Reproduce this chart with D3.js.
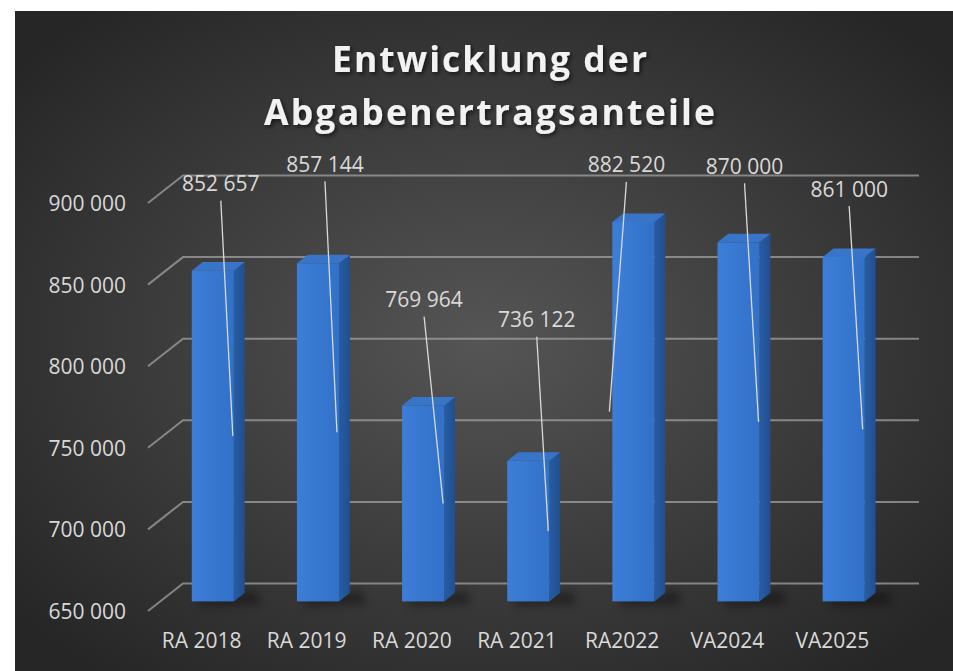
<!DOCTYPE html>
<html>
<head>
<meta charset="utf-8">
<script src="https://cdn.jsdelivr.net/npm/d3@7"></script>
<style>
  html, body { margin: 0; padding: 0; background: #ffffff; }
  svg { display: block; }
</style>
</head>
<body>
<svg id="chart" width="953" height="671"></svg>
<script>
// ---- data ----
const titleLines = ["Entwicklung der", "Abgabenertragsanteile"];
const categories = ["RA 2018", "RA 2019", "RA 2020", "RA 2021", "RA2022", "VA2024", "VA2025"];
const values = [852657, 857144, 769964, 736122, 882520, 870000, 861000];
const yTicks = [650000, 700000, 750000, 800000, 850000, 900000];

// ---- layout (manual label placement, as in the original) ----
const labelDx = [8, 7, 1, 8.5, -7, 6, 5.5];
const labelDy = [-87, -99, -106, -141, -57, -76, -68];
const anchorDx = [20, 19, 20, 20, -24, 20, 19];

const W = 953, H = 671;
const svg = d3.select("#chart");
const defs = svg.append("defs");

const locale = d3.formatLocale({ decimal: ",", thousands: " ", grouping: [3], currency: ["", ""] });
const fmt = locale.format(",d");

// background gradient
const bg = defs.append("radialGradient").attr("id", "bg")
  .attr("cx", "50%").attr("cy", "50%").attr("r", "65%");
bg.append("stop").attr("offset", "0%").attr("stop-color", "#555555");
bg.append("stop").attr("offset", "100%").attr("stop-color", "#262626");

const fg = defs.append("linearGradient").attr("id", "front").attr("x1", 0).attr("x2", 1).attr("y1", 0).attr("y2", 0);
fg.append("stop").attr("offset", "0%").attr("stop-color", "#3c7ed8");
fg.append("stop").attr("offset", "100%").attr("stop-color", "#3271c8");
const sg = defs.append("linearGradient").attr("id", "side").attr("x1", 0).attr("x2", 1).attr("y1", 0).attr("y2", 0);
sg.append("stop").attr("offset", "0%").attr("stop-color", "#275ca4");
sg.append("stop").attr("offset", "100%").attr("stop-color", "#214f8f");

const sh = defs.append("filter").attr("id", "tshadow").attr("x", "-10%").attr("y", "-30%").attr("width", "120%").attr("height", "160%");
sh.append("feDropShadow").attr("dx", 2).attr("dy", 2).attr("stdDeviation", 2)
  .attr("flood-color", "#000").attr("flood-opacity", 0.6);
const blur = defs.append("filter").attr("id", "blur").attr("x", "-50%").attr("y", "-50%").attr("width", "200%").attr("height", "200%");
blur.append("feGaussianBlur").attr("stdDeviation", 4);

svg.append("rect").attr("x", 15).attr("y", 11).attr("width", W - 15).attr("height", H - 11)
  .attr("fill", "url(#bg)");

// ---- scales ----
const DX = 35, DY = -27.5;        // depth of the plot floor
const barDepthF = 0.31;           // bar depth as fraction of floor depth
const barF = 0.35;                // bar front face position in depth
const x = d3.scaleBand().domain(categories).range([148, 884]).paddingInner(0).paddingOuter(0);
const y = d3.scaleLinear().domain([650000, 900000]).range([611, 203]);
const bw = x.bandwidth();
const backRight = x.range()[1] + DX;

// ---- gridlines (3D: diagonal on side + back wall) ----
const grid = svg.append("g");
grid.selectAll("path.g").data(yTicks).join("path")
  .attr("fill", "none")
  .attr("stroke", "#a0a0a0").attr("stroke-opacity", 0.75).attr("stroke-width", 2)
  .attr("d", d => {
    const x0 = x.range()[0], y0 = y(d);
    return `M${x0},${y0}L${x0 + DX},${y0 + DY}L${backRight},${y0 + DY}`;
  });

// ---- axes ----
const yAxis = svg.append("g").attr("transform", "translate(126,0)")
  .call(d3.axisLeft(y).tickValues(yTicks).tickSize(0).tickPadding(0).tickFormat(fmt));
yAxis.select(".domain").remove();
yAxis.selectAll("text").attr("fill", "#d9d9d9")
  .style("font-family", "'Open Sans', sans-serif").style("font-size", "21px").attr("dy", "0.36em");

const xAxis = svg.append("g").attr("transform", "translate(1,640)")
  .call(d3.axisBottom(x).tickSize(0).tickPadding(0));
xAxis.select(".domain").remove();
xAxis.selectAll("text").attr("fill", "#d9d9d9").attr("y", 0).attr("dy", "0.36em")
  .style("font-family", "'Open Sans', sans-serif").style("font-size", "21px");

// ---- bars ----
const bdx = DX * barDepthF, bdy = DY * barDepthF;
const bars = categories.map((c, i) => {
  const x0 = x(c) + bw * 0.3 + DX * barF;
  const x1 = x0 + bw * 0.4;
  const yt = y(values[i]) + DY * barF;
  const yb = y(650000) + DY * barF;
  return { c, v: values[i], i, x0, x1, yt, yb };
});

const bg2 = svg.append("g");
// base shadow
bg2.selectAll("path.shadow").data(bars).join("path")
  .attr("fill", "#000").attr("opacity", 0.35).attr("filter", "url(#blur)")
  .attr("d", b => `M${b.x0 + 6},${b.yb - 2}L${b.x1 + bdx + 12},${b.yb + bdy - 2}L${b.x1 + bdx + 16},${b.yb + 3}L${b.x0 + 8},${b.yb + 5}Z`);
// side face
bg2.selectAll("path.side").data(bars).join("path")
  .attr("fill", "url(#side)")
  .attr("d", b => `M${b.x1},${b.yt}L${b.x1 + bdx},${b.yt + bdy}L${b.x1 + bdx},${b.yb + bdy}L${b.x1},${b.yb}Z`);
// top face
bg2.selectAll("path.top").data(bars).join("path")
  .attr("fill", "#3875c9")
  .attr("d", b => `M${b.x0},${b.yt}L${b.x1},${b.yt}L${b.x1 + bdx},${b.yt + bdy}L${b.x0 + bdx},${b.yt + bdy}Z`);
// front face
bg2.selectAll("rect.front").data(bars).join("rect")
  .attr("fill", "url(#front)")
  .attr("x", b => b.x0).attr("y", b => b.yt)
  .attr("width", b => b.x1 - b.x0).attr("height", b => b.yb - b.yt);

// ---- data labels with leader lines ----
const lbl = svg.append("g");
bars.forEach(b => {
  const cx = (b.x0 + b.x1) / 2;
  const lx = cx + labelDx[b.i], ly = b.yt + labelDy[b.i];
  const ax = cx + anchorDx[b.i], ay = (b.yt + b.yb) / 2;
  lbl.append("line")
    .attr("x1", lx).attr("y1", ly + 17).attr("x2", ax).attr("y2", ay)
    .attr("stroke", "#d9d9d9").attr("stroke-width", 1.3);
  lbl.append("text")
    .attr("x", lx).attr("y", ly).attr("dy", "0.36em")
    .attr("text-anchor", "middle").attr("fill", "#d9d9d9")
    .style("font-family", "'Open Sans', sans-serif").style("font-size", "21px")
    .text(fmt(b.v));
});

// ---- title ----
const titleWidths = [315, 451];
svg.append("g").attr("filter", "url(#tshadow)")
  .selectAll("text").data(titleLines).join("text")
  .attr("x", (d, i) => 489.5 - titleWidths[i] / 2)
  .attr("y", (d, i) => 72 + i * 52.6)
  .attr("textLength", (d, i) => titleWidths[i])
  .attr("lengthAdjust", "spacing")
  .attr("fill", "#f2f2f2")
  .style("font-family", "'Open Sans', sans-serif").style("font-weight", "bold").style("font-size", "35.5px")
  .text(d => d);
</script>
</body>
</html>
